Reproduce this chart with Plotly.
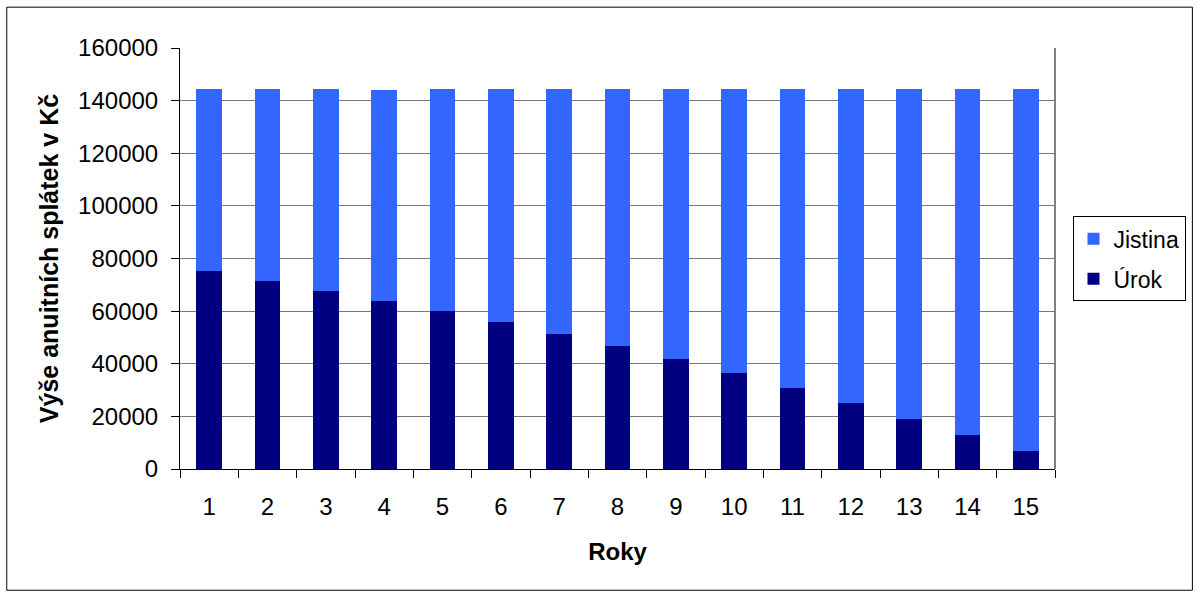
import plotly.graph_objects as go

# Annuity repayment breakdown per year (CZK)
roky = [str(i) for i in range(1, 16)]
urok = [75200, 71350, 67550, 63750, 60100, 55750, 51150, 46600, 41650, 36300,
        30950, 25250, 19150, 13050, 6700]
splatka = [144550, 144550, 144550, 144150, 144550, 144550, 144550, 144550, 144550, 144550,
           144550, 144550, 144550, 144550, 144550]
jistina = [s - u for s, u in zip(splatka, urok)]

FONT = "Liberation Sans, Arial, sans-serif"

fig = go.Figure()
fig.add_trace(go.Bar(x=roky, y=urok, name="Úrok", legendgroup="u", legendrank=2,
                     marker=dict(color="#000080", line=dict(width=0))))
fig.add_trace(go.Bar(x=roky, y=jistina, name="Jistina", legendgroup="j", legendrank=1,
                     marker=dict(color="#3366FF", line=dict(width=0))))

fig.update_layout(
    width=1198, height=595,
    barmode="stack", bargap=0.56,
    paper_bgcolor="white", plot_bgcolor="white",
    margin=dict(l=180, r=143, t=48, b=126, autoexpand=False),
    font=dict(family=FONT, size=24, color="black"),
    showlegend=True,
    legend=dict(
        x=1.02, xanchor="left", y=0.6, yanchor="top",
        traceorder="grouped", tracegroupgap=7,
        bordercolor="black", borderwidth=1,
        font=dict(size=23), itemsizing="constant", itemwidth=30,
    ),
    shapes=[
        dict(type="rect", xref="paper", yref="paper",
             x0=-0.198, x1=1.157, y0=-0.288, y1=1.097,
             line=dict(color="black", width=1), layer="below"),
        dict(type="line", xref="paper", yref="paper", x0=1, x1=1, y0=0, y1=1,
             line=dict(color="#808080", width=2), layer="above"),
    ],
)

fig.update_xaxes(
    type="category", showline=True, linecolor="black", linewidth=1,
    ticks="outside", tickson="boundaries", ticklen=8, tickcolor="black",
    ticklabelstandoff=16,
    title=dict(text="<b>Roky</b>", font=dict(size=24), standoff=24),
    showgrid=False,
)
fig.update_yaxes(
    range=[0, 160000], dtick=20000, tickformat="d",
    showline=True, linecolor="black", linewidth=1,
    ticks="outside", ticklen=8, tickcolor="black",
    ticklabelstandoff=8,
    showgrid=True, gridcolor="#777777", gridwidth=1,
    zeroline=False,
    title=dict(text="<b>Výše anuitních splátek v Kč</b>", font=dict(size=25), standoff=12),
)

fig.write_html("out.html")
